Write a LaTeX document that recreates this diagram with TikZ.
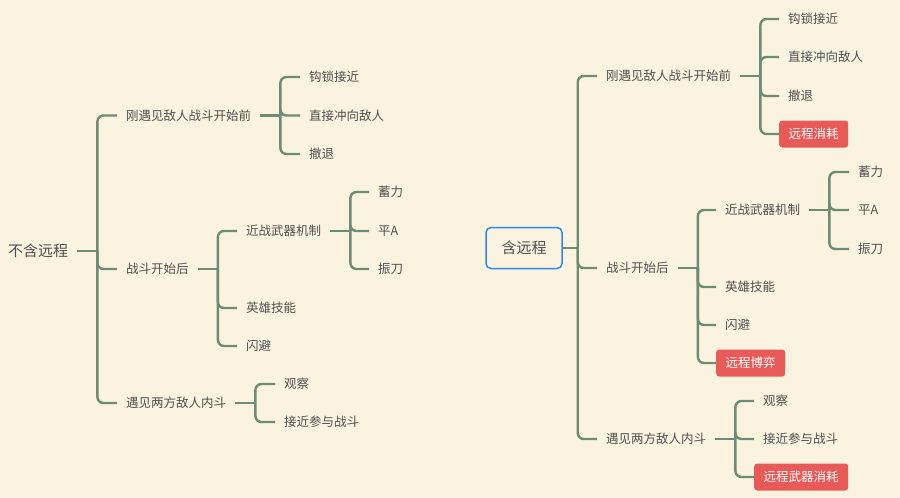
\documentclass[tikz,border=0pt]{standalone}
\usepackage{fontspec}
\setmainfont{Noto Sans CJK SC}
\usetikzlibrary{calc}
\definecolor{bgc}{HTML}{FAF3DF}
\definecolor{linec}{HTML}{6E8B74}
\definecolor{txtc}{HTML}{4F4F4F}
\definecolor{bluec}{HTML}{2F88EE}
\definecolor{redc}{HTML}{E85A58}
\begin{document}
\begin{tikzpicture}[x=1pt, y=-1pt, font=\fontsize{12.5}{14}\selectfont, line join=round,
	topic/.style={anchor=west, inner xsep=9pt, inner ysep=2pt, text height=10.5pt, text depth=1pt, text=txtc},
	hot/.style={topic, fill=redc, text=white, rounded corners=3pt, minimum height=27pt, inner xsep=9.5pt},
	big/.style={font=\fontsize{15}{18}\selectfont, text height=12.5pt, text depth=1.5pt},
	link/.style={draw=linec, line width=2.4pt, rounded corners=6pt}]
	\def\gap{20}  % stub length to the fork
	\fill[bgc] (0,0) rectangle (900,498);
	\useasboundingbox (0,0) rectangle (900,498);
	% left map
	\node[topic, big] (l0) at (-1,251) {不含远程};
	\node[topic] (a1) at (117,115.5) {刚遇见敌人战斗开始前};
	\node[topic] (a2) at (117,269) {战斗开始后};
	\node[topic] (a3) at (117,403) {遇见两方敌人内斗};
	\node[topic] (b1) at (300,77) {钩锁接近};
	\node[topic] (b2) at (300,115.5) {直接冲向敌人};
	\node[topic] (b3) at (300,154) {撤退};
	\node[topic] (c1) at (237,231) {近战武器机制};
	\node[topic] (c2) at (237,308) {英雄技能};
	\node[topic] (c3) at (237,346) {闪避};
	\node[topic] (d1) at (369,192) {蓄力};
	\node[topic] (d2) at (369,231) {平A};
	\node[topic] (d3) at (369,269) {振刀};
	\node[topic] (e1) at (275,384) {观察};
	\node[topic] (e2) at (275,422) {接近参与战斗};
	\coordinate (jl0) at ($(l0.east)+(\gap,0)$);
	\coordinate (ja1) at ($(a1.east)+(\gap,0)$);
	\coordinate (ja2) at ($(a2.east)+(\gap,0)$);
	\coordinate (ja3) at ($(a3.east)+(\gap,0)$);
	\coordinate (jc1) at ($(c1.east)+(\gap,0)$);
	\draw[link] (l0.east)--(jl0) (a1.east)--(ja1) (a2.east)--(ja2) (a3.east)--(ja3) (c1.east)--(jc1);
	\foreach \c in {a1,a2,a3} \draw[link] (jl0) |- (\c.west);
	\foreach \c in {b1,b2,b3} \draw[link] (ja1) |- (\c.west);
	\foreach \c in {c1,c2,c3} \draw[link] (ja2) |- (\c.west);
	\foreach \c in {d1,d2,d3} \draw[link] (jc1) |- (\c.west);
	\foreach \c in {e1,e2} \draw[link] (ja3) |- (\c.west);
	% right map
	\node[big, text=txtc, draw=bluec, line width=1.5pt, rounded corners=5pt, minimum width=76pt, minimum height=41pt] (r0) at (524,248) {含远程};
	\node[topic] (f1) at (597,76) {刚遇见敌人战斗开始前};
	\node[topic] (f2) at (597,268) {战斗开始后};
	\node[topic] (f3) at (597,439) {遇见两方敌人内斗};
	\node[topic] (g1) at (779,19) {钩锁接近};
	\node[topic] (g2) at (779,57) {直接冲向敌人};
	\node[topic] (g3) at (779,96) {撤退};
	\node[hot] (g4) at (779,134) {远程消耗};
	\node[topic] (h1) at (716,210) {近战武器机制};
	\node[topic] (h2) at (716,287) {英雄技能};
	\node[topic] (h3) at (716,325) {闪避};
	\node[hot] (h4) at (716,363) {远程博弈};
	\node[topic] (k1) at (849,172) {蓄力};
	\node[topic] (k2) at (849,210) {平A};
	\node[topic] (k3) at (849,249) {振刀};
	\node[topic] (m1) at (754,401) {观察};
	\node[topic] (m2) at (754,439) {接近参与战斗};
	\node[hot] (m3) at (754,477) {远程武器消耗};
	\coordinate (jr0) at ($(r0.east)+(15,0)$);
	\coordinate (jf1) at ($(f1.east)+(\gap,0)$);
	\coordinate (jf2) at ($(f2.east)+(\gap,0)$);
	\coordinate (jf3) at ($(f3.east)+(\gap,0)$);
	\coordinate (jh1) at ($(h1.east)+(\gap,0)$);
	\draw[link] (r0.east)--(jr0) (f1.east)--(jf1) (f2.east)--(jf2) (f3.east)--(jf3) (h1.east)--(jh1);
	\foreach \c in {f1,f2,f3} \draw[link] (jr0) |- (\c.west);
	\foreach \c in {g1,g2,g3,g4} \draw[link] (jf1) |- (\c.west);
	\foreach \c in {h1,h2,h3,h4} \draw[link] (jf2) |- (\c.west);
	\foreach \c in {k1,k2,k3} \draw[link] (jh1) |- (\c.west);
	\foreach \c in {m1,m2,m3} \draw[link] (jf3) |- (\c.west);
\end{tikzpicture}
\end{document}
